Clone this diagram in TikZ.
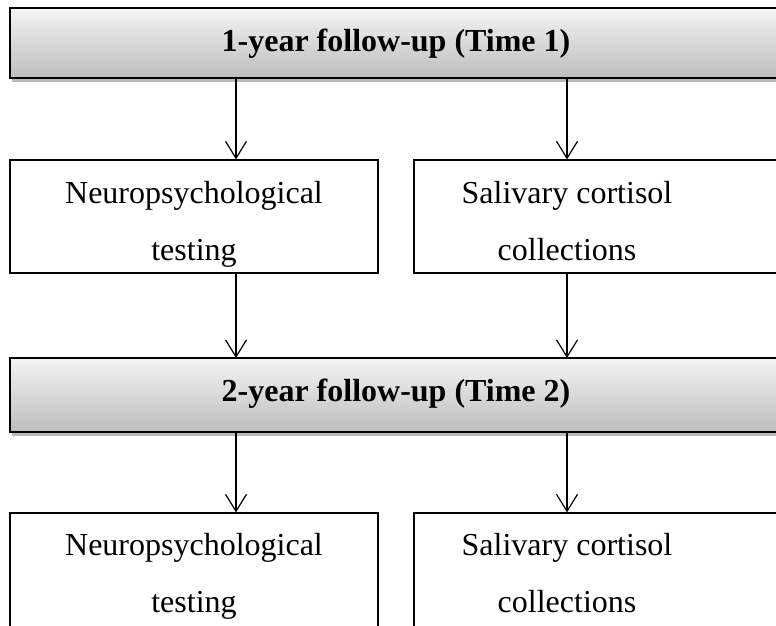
\documentclass[tikz,border=0pt]{standalone}
\usepackage{fontspec}
\setmainfont{Liberation Serif}
\usetikzlibrary{arrows.meta,shadows}
\begin{document}
\begin{tikzpicture}[x=1pt,y=1pt,
  bar/.style={draw=black,line width=2pt,top color=black!4,bottom color=black!26,
    drop shadow={shadow xshift=2pt,shadow yshift=-4pt,fill=black!45,opacity=0.6}},
  box/.style={draw=black,line width=1.2pt,fill=white},
  txt/.style={align=center,font=\fontsize{32}{57}\selectfont,inner sep=0pt},
  ttl/.style={font=\fontsize{32}{38}\selectfont\bfseries,inner sep=0pt},
  arr/.style={-{Straight Barb[length=17pt,width=21pt,line width=1.2pt]},line width=1.2pt}]
\useasboundingbox (0,0) rectangle (776,-625);
% bars
\path[bar] (10,-8) rectangle (782,-78);
\node[ttl] (t1) at (396,-44) {1-year follow-up (Time 1)};
\path[bar] (10,-358) rectangle (782,-432);
\node[ttl] (t2) at (396,-394) {2-year follow-up (Time 2)};
% box shapes
\node[box,minimum width=368pt,minimum height=113pt,inner sep=0pt] (b1L) at (194,-216.5) {};
\node[box,minimum width=386pt,minimum height=113pt,inner sep=0pt] (b1R) at (607,-216.5) {};
\node[box,minimum width=368pt,minimum height=130pt,inner sep=0pt] (b2L) at (194,-578) {};
\node[box,minimum width=386pt,minimum height=130pt,inner sep=0pt] (b2R) at (607,-578) {};
% texts
\node[txt] (x1L) at (194,-224) {Neuropsychological\\testing};
\node[txt] (x1R) at (567,-224) {Salivary cortisol\\collections\vphantom{g}};
\node[txt] (x2L) at (194,-576) {Neuropsychological\\testing};
\node[txt] (x2R) at (567,-576) {Salivary cortisol\\collections\vphantom{g}};
% bar anchors
\coordinate (bar1L) at (236,-78);
\coordinate (bar1R) at (567,-78);
\coordinate (bar2Lt) at (236,-358);
\coordinate (bar2Rt) at (567,-358);
\coordinate (bar2Lb) at (236,-432);
\coordinate (bar2Rb) at (567,-432);
% arrows
\draw[arr] (bar1L) -- (bar1L |- b1L.north);
\draw[arr] (bar1R) -- (bar1R |- b1R.north);
\draw[arr] (bar2Lt |- b1L.south) -- (bar2Lt);
\draw[arr] (bar2Rt |- b1R.south) -- (bar2Rt);
\draw[arr] (bar2Lb) -- (bar2Lb |- b2L.north);
\draw[arr] (bar2Rb) -- (bar2Rb |- b2R.north);
\end{tikzpicture}
\end{document}
